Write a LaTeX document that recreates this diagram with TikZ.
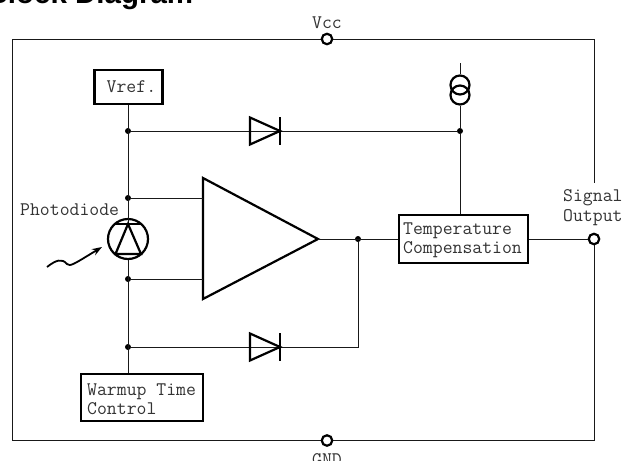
\documentclass[tikz,border=0pt]{standalone}
\usepackage{fontspec}
\setmainfont{Liberation Sans}
\usetikzlibrary{arrows.meta}
\tikzset{
  wire/.style={line width=1pt,black!90},
  heavy/.style={line width=2.2pt,black,line join=miter},
  block/.style={draw=black,line width=2.2pt,inner sep=0pt,fill=white},
  mono/.style={font=\ttfamily\fontsize{19.2}{21}\selectfont,text=black!80,inner sep=0pt},
  dot/.style={circle,fill=black,inner sep=0pt,minimum size=6pt},
  term/.style={circle,draw=black,line width=2.2pt,fill=white,inner sep=0pt,minimum size=10.5pt},
  ring/.style={circle,draw=black,line width=2.2pt,inner sep=0pt},
}
\begin{document}
\begin{tikzpicture}[x=1pt,y=-1pt]
\useasboundingbox (0,0) rectangle (625,461);
\node[anchor=base west,inner sep=0pt,font=\bfseries\fontsize{29.5}{30}\selectfont] (title) at (-13.6,3.5) {Block Diagram};
% terminals and outer frame
\coordinate (tl) at (12,39);
\coordinate (tr) at (594,39);
\coordinate (bl) at (12,440.5);
\coordinate (br) at (594,440.5);
\coordinate (rgap) at (594,183);
\coordinate (vccp) at (327,39);
\coordinate (gndp) at (327,440.5);
\coordinate (outp) at (594,239);
\draw[wire] (vccp) -- (tl) -- (bl) -- (gndp);
\draw[wire] (vccp) -- (tr) -- (rgap);
\draw[wire] (outp) -- (br) -- (gndp);
\node[term] (vcc) at (vccp) {};
\node[term] (gnd) at (gndp) {};
\node[term] (out) at (outp) {};
\node[mono] (vcclab) at (327,23) {Vcc};
\node[mono,anchor=base] (gndlab) at (327,465) {GND};
\node[mono,anchor=base west] (sig) at (563,201) {Signal};
\node[mono,anchor=base west] (outl) at (563,221) {Output};
% blocks
\node[block,minimum width=68pt,minimum height=34pt] (vref) at (128.5,87) {};
\node[mono,anchor=base west] (vreft) at (106.5,92.5) {Vref.};
\node[block,minimum width=122pt,minimum height=47pt] (warm) at (142,397.5) {};
\node[mono,anchor=base west] (w1) at (87,395) {Warmup Time};
\node[mono,anchor=base west] (w2) at (87,414) {Control};
\node[block,minimum width=129pt,minimum height=48pt] (temp) at (463.5,239) {};
\node[mono,anchor=base west] (t1) at (403,234.5) {Temperature};
\node[mono,anchor=base west] (t2) at (403,253.5) {Compensation};
\node[mono,anchor=base west] (pd) at (20,215.5) {Photodiode};
% junctions
\node[dot] (j1) at (128,131) {};
\node[dot] (j2) at (128,198) {};
\node[dot] (j3) at (128,279) {};
\node[dot] (j4) at (128,347) {};
\node[dot] (j5) at (460,131) {};
\node[dot] (j6) at (358,239) {};
% photodiode
\node[ring,minimum size=40pt] (ph) at (128,239) {};
\coordinate (phapex) at (128,224);
\coordinate (phl) at (115.5,254);
\coordinate (phr) at (141,254);
\draw[wire] (vref.south -| j1) -- (ph.north);
\draw[wire] (ph.north) -- (phapex);
\draw[wire] (ph.south) -- (warm.north -| j3);
\draw[heavy] (phl) -- (phapex) -- (phr) -- cycle;
\coordinate (bara) at (115,224);
\coordinate (barb) at (142,224);
\draw[heavy] (bara) -- (barb);
% amplifier
\coordinate (ampt) at (203,178);
\coordinate (ampb) at (203,299);
\coordinate (ampo) at (318,239);
\draw[heavy] (ampt) -- (ampo) -- (ampb) -- cycle;
\draw[wire] (j2) -- (j2 -| ampt);
\draw[wire] (j3) -- (j3 -| ampt);
\draw[wire] (ampo) -- (temp.west);
\draw[wire] (temp.east) -- (out);
% upper diode
\coordinate (d1c) at (280,131);
\draw[wire] (j1) -- (j5);
\draw[heavy] (250,117.5) -- (d1c) -- (250,144.5) -- cycle;
\draw[heavy] (280,117) -- (280,145);
% lower diode
\coordinate (j6b) at (358,347);
\draw[wire] (j4) -- (j6b) -- (j6);
\draw[heavy] (250,333.5) -- (280,347) -- (250,360.5) -- cycle;
\draw[heavy] (280,333) -- (280,361);
% current source
\node[ring,minimum size=19pt] (cs1) at (460,85) {};
\node[ring,minimum size=19pt] (cs2) at (460,95) {};
\coordinate (cstop) at (460,63);
\draw[wire] (cstop) -- (cs1.north);
\draw[wire] (cs2.south) -- (j5);
\draw[wire] (j5) -- (temp.north -| j5);
% light arrow
\coordinate (lt) at (47,267);
\coordinate (lh) at (102,247);
\draw[line width=1.8pt,-{Stealth[length=10pt,width=7pt]}] (lt) .. controls (56,260) and (62,258) .. (67,264) .. controls (70,267) and (74,264) .. (lh);
\end{tikzpicture}
\end{document}
